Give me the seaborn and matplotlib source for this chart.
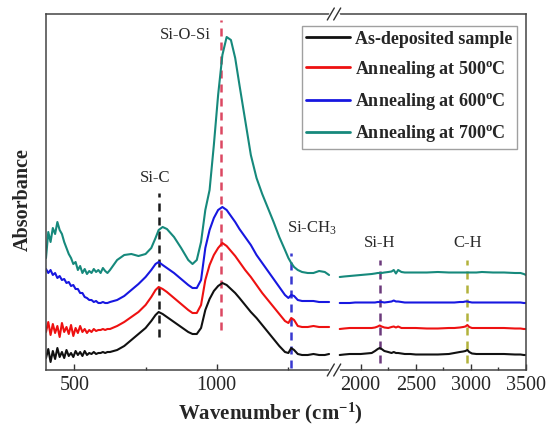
import numpy as np
import pandas as pd
import matplotlib
matplotlib.use("Agg")
import matplotlib.pyplot as plt
from matplotlib.ticker import FixedLocator, NullLocator
import seaborn as sns

# ---------------- data ----------------
samples = ["As-deposited sample", "Annealing at 500$^{\\mathbf{o}}$C",
           "Annealing at 600$^{\\mathbf{o}}$C", "Annealing at 700$^{\\mathbf{o}}$C"]
colors = ["#111111", "#EE1111", "#1717E0", "#16897C"]

# low-wavenumber window (cm-1)
wn_low = [400, 408, 416, 424, 432, 440, 448, 456, 464, 472, 480, 488, 496, 504,
          512, 520, 528, 536, 544, 552, 560, 568, 576, 584, 592, 600, 608, 616,
          625, 650, 675, 700, 725, 750, 770, 785, 796, 810, 825, 850, 875, 900,
          915, 930, 945, 960, 975, 990, 1005, 1020, 1035, 1050, 1065, 1080, 1100,
          1120, 1140, 1160, 1180, 1200, 1220, 1240, 1252, 1262, 1272, 1285, 1300,
          1320, 1340, 1360, 1380, 1395]

black_low = [12, 21, 8, 19, 11, 22, 13, 18, 12, 20, 14, 17, 13, 19,
             15, 18, 14, 19, 15, 17, 16, 18, 16, 17, 17, 18, 17, 18,
             18, 20, 24, 30, 36, 42, 49, 55, 58, 56, 53, 48, 43, 38,
             36, 36, 42, 60, 71, 79, 84, 87, 85, 81, 77, 72, 65,
             58, 52, 45, 38, 31, 24, 18, 17, 22, 20, 16, 15,
             15, 16, 15, 15, 16]

red_low = [38, 48, 35, 46, 37, 44, 33, 47, 38, 43, 36, 45, 34, 42,
           37, 44, 38, 41, 37, 40, 38, 41, 39, 40, 40, 41, 40, 41,
           41, 44, 48, 53, 58, 65, 73, 80, 83, 81, 78, 72, 66, 60,
           57, 57, 65, 90, 105, 115, 122, 127, 124, 119, 114, 108, 100,
           93, 85, 77, 70, 63, 56, 49, 47, 52, 50, 44, 43,
           43, 44, 43, 43, 43]

blue_low = [101, 97, 100, 95, 97, 92, 94, 90, 91, 87, 88, 84, 85, 81,
            81, 77, 77, 73, 72, 70, 70, 68, 69, 67, 67, 68, 67, 67,
            68, 70, 74, 80, 86, 93, 100, 106, 108, 105, 102, 97, 91, 85,
            82, 82, 90, 122, 140, 152, 160, 163, 160, 154, 148, 141, 133,
            125, 115, 107, 99, 91, 83, 75, 72, 75, 74, 70, 69,
            69, 69, 68, 68, 68]

teal_low = [112, 138, 128, 142, 136, 148, 140, 136, 128, 122, 116, 112, 106, 108,
            100, 104, 97, 101, 96, 99, 97, 101, 98, 100, 97, 102, 99, 97,
            100, 110, 115, 116, 114, 116, 122, 132, 140, 143, 141, 133, 122, 110,
            106, 110, 128, 160, 180, 225, 275, 315, 333, 330, 312, 285, 250,
            215, 192, 176, 162, 148, 133, 120, 112, 107, 103, 100, 98,
            97, 97, 99, 98, 95]

# high-wavenumber window (cm-1)
wn_high = [1810, 1850, 1900, 1950, 2000, 2050, 2100, 2130, 2155, 2172, 2190, 2215,
           2250, 2280, 2300, 2320, 2340, 2370, 2400, 2450, 2500, 2600, 2700, 2800,
           2850, 2900, 2930, 2950, 2968, 2985, 3010, 3050, 3100, 3200, 3300, 3400,
           3450, 3480, 3500]

black_high = [15, 15.5, 16, 16, 16, 16.5, 17, 19, 21, 22, 21, 19,
              18, 17, 18, 17, 17, 16.5, 16, 16, 15.5, 15.5, 15.5, 16,
              17, 18, 18.5, 19, 20, 18, 16.5, 16, 16, 16, 16, 15.5,
              15.5, 15, 15]

red_high = [41, 41.5, 42, 42, 42, 42, 42, 42.5, 43.5, 44.5, 43.5, 42.5,
            42, 43, 43.5, 42.5, 43.5, 42, 42, 42, 42, 41.5, 41.5, 42,
            42, 42.5, 43, 43.5, 45, 43, 42, 42, 42, 42, 42, 41.5,
            41.5, 41, 41]

blue_high = [67, 67, 67, 67.5, 67.5, 67.5, 67.5, 67.5, 68, 68, 68, 67.5,
             68, 68.5, 69.5, 68.5, 68.5, 68, 67.5, 67.5, 67.5, 67.5, 67.5, 67.5,
             67.5, 68, 68, 68.5, 68.5, 68, 67.5, 67.5, 67.5, 67.5, 67.5, 67.5,
             67.5, 67, 67]

teal_high = [93, 93.5, 94, 94.5, 95, 95.5, 96, 96.5, 97, 97, 97, 97.5,
             98, 98.5, 100, 96.5, 100, 98, 97.5, 97.5, 97.5, 97.5, 98, 97.5,
             97.5, 97.5, 97.5, 97.5, 97.5, 97.5, 97.5, 97.5, 98, 97.5, 97.5, 97,
             97, 96, 95]

# band assignments: position, dashed-line extent, label position, colour
band_labels = ["Si-C", "Si-O-Si", "Si-CH$_3$", "Si-H", "C-H"]
band_pos = [796, 1015, 1262, 2172, 2968]
band_lo = [33, 40, 2, 7, 7]
band_hi = [177, 350, 117, 110, 110]
band_colors = ["#1a1a1a", "#DC4862", "#3838D0", "#6C3A7C", "#B2B23C"]
label_x = [785, 888, 1335, 2176, 2973]
label_y = [192, 335, 142, 127, 127]

# ---------------- broken wavenumber axis ----------------
BRK_L, BRK_R, EPS, R = 1412.0, 1758.0, 0.001, 0.3874
U1 = BRK_L + (BRK_R - BRK_L) * EPS


def fwd(x):
    x = np.asarray(x, dtype=float)
    return np.where(x <= BRK_L, x,
                    np.where(x >= BRK_R, U1 + (x - BRK_R) * R,
                             BRK_L + (x - BRK_L) * EPS))


def inv(u):
    u = np.asarray(u, dtype=float)
    return np.where(u <= BRK_L, u,
                    np.where(u >= U1, BRK_R + (u - U1) / R,
                             BRK_L + (u - BRK_L) / EPS))


# ---------------- table ----------------
rows = []
series_low = [black_low, red_low, blue_low, teal_low]
series_high = [black_high, red_high, blue_high, teal_high]
for name, lo, hi in zip(samples, series_low, series_high):
    for w, a in zip(wn_low, lo):
        rows.append((name, "low", w, a))
    for w, a in zip(wn_high, hi):
        rows.append((name, "high", w, a))
df = pd.DataFrame(rows, columns=["sample", "segment", "wavenumber", "absorbance"])

# ---------------- style ----------------
sns.set_theme(style="white")
plt.rcParams["font.family"] = ["Liberation Serif", "DejaVu Serif"]
plt.rcParams["mathtext.fontset"] = "custom"
plt.rcParams["mathtext.rm"] = "Liberation Serif"
plt.rcParams["mathtext.it"] = "Liberation Serif:italic"
plt.rcParams["mathtext.bf"] = "Liberation Serif:bold"

fig = plt.figure(figsize=(5.47, 4.32), dpi=100)
ax = fig.add_axes([46 / 547, 1 - 370 / 432, 480 / 547, 356 / 432])

sns.lineplot(data=df, x="wavenumber", y="absorbance", hue="sample",
             hue_order=samples, palette=colors, units="segment",
             estimator=None, sort=False, lw=1.5, ax=ax)

ax.set_xscale("function", functions=(fwd, inv))
ax.set_xlim(400, 3500)
ax.set_ylim(0, 356)

# band markers
for lab, p, lo, hi, c, tx, ty in zip(band_labels, band_pos, band_lo, band_hi,
                                     band_colors, label_x, label_y):
    ax.plot([p, p], [lo, hi], color=c, lw=1.8, ls=(0, (3.2, 2.4)), zorder=1)
    ax.text(tx, ty, lab, ha="center", va="center", fontsize=12, color="#2a2a2a")

# ticks
ax.xaxis.set_major_locator(FixedLocator([500, 1000, 2000, 2500, 3000, 3500]))
ax.xaxis.set_minor_locator(FixedLocator([750, 1250, 2250, 2750, 3250]))
ax.yaxis.set_major_locator(NullLocator())
ax.tick_params(axis="x", which="major", direction="in", length=4.5, width=1.0,
               color="#333333", labelsize=14.5, pad=4, top=False, bottom=True)
ax.tick_params(axis="x", which="minor", direction="in", length=2.5, width=1.0,
               color="#333333", top=False, bottom=True)
ax.set_xticklabels(["500", "1000", "2000", "2500", "3000", "3500"])
for sp in ax.spines.values():
    sp.set_color("#444444")
    sp.set_linewidth(1.1)

ax.set_xlabel("Wavenumber (cm$^{\\mathbf{-1}}$)", fontsize=15, fontweight="bold")
ax.set_ylabel("Absorbance", fontsize=14.5, fontweight="bold")
ax.xaxis.set_label_coords((270 - 46) / 480, (370 - 401) / 356)
ax.yaxis.set_label_coords((33 - 46) / 480, (370 - 200) / 356)

# axis-break marks on the frame
bx = (334 - 46) / 480
dx, dy, gap = 3.5 / 480, 6 / 356, 3.2 / 480
for yb in (0.0, 1.0):
    ax.plot([bx - gap - 1 / 480, bx + gap + 1 / 480], [yb, yb], color="white",
            lw=2.5, transform=ax.transAxes, clip_on=False, zorder=5)
    for xc in (bx - gap, bx + gap):
        ax.plot([xc - dx, xc + dx], [yb - dy, yb + dy], color="#333333", lw=1.0,
                transform=ax.transAxes, clip_on=False, zorder=6)

# legend
sns.move_legend(ax, loc="upper right", bbox_to_anchor=((517 - 46) / 480, (370 - 26) / 356),
                borderaxespad=0, title=None, frameon=True, fancybox=False,
                prop={"weight": "bold", "size": 13}, handlelength=2.4,
                handletextpad=0.3, labelspacing=0.62, borderpad=0.25)
leg = ax.get_legend()
leg.get_frame().set_edgecolor("#888888")
leg.get_frame().set_linewidth(1.0)
for ln in leg.get_lines():
    ln.set_linewidth(2.0)

fig.savefig("out.png", dpi=100)
